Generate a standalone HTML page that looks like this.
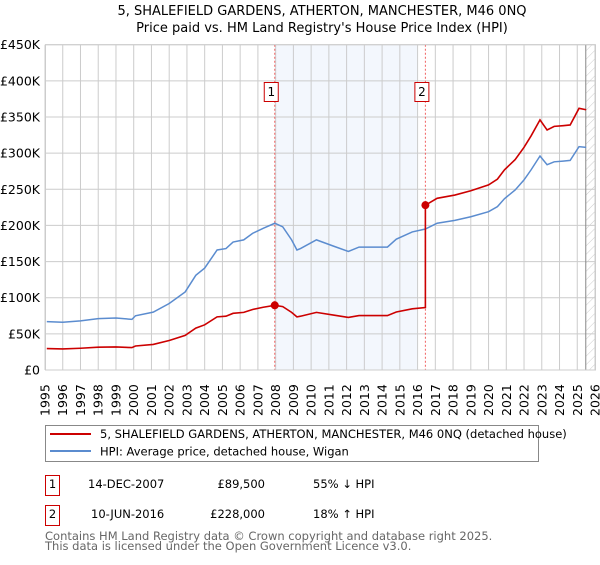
<!DOCTYPE html>
<html><head><meta charset="utf-8"><style>
body{margin:0;background:#fff;font-family:"Liberation Sans","DejaVu Sans",sans-serif;}
svg text{font-family:"DejaVu Sans","Liberation Sans",sans-serif;}
</style></head><body>
<svg id="c" width="600" height="560" viewBox="0 0 600 560" xmlns="http://www.w3.org/2000/svg">
<defs><pattern id="hatch" width="6" height="6" patternUnits="userSpaceOnUse" patternTransform="rotate(45)"><line x1="0" y1="0" x2="0" y2="6" stroke="#ccc" stroke-width="1"/></pattern></defs>
<text x="322" y="15" text-anchor="middle" font-size="13" fill="#000">5, SHALEFIELD GARDENS, ATHERTON, MANCHESTER, M46 0NQ</text>
<text x="322" y="32" text-anchor="middle" font-size="13" fill="#000">Price paid vs. HM Land Registry's House Price Index (HPI)</text>
<g id="plot"></g>
<g>
<rect x="45.5" y="425.5" width="493" height="36" fill="#fff" stroke="#888"/>
<line x1="50" y1="434" x2="91" y2="434" stroke="#cc0000" stroke-width="2"/>
<text x="100" y="438" font-size="11.5">5, SHALEFIELD GARDENS, ATHERTON, MANCHESTER, M46 0NQ (detached house)</text>
<line x1="50" y1="451" x2="91" y2="451" stroke="#5b8ccf" stroke-width="2"/>
<text x="100" y="455.5" font-size="11.5">HPI: Average price, detached house, Wigan</text>
</g>
<g font-size="11.5">
<rect x="45.5" y="475.5" width="14" height="20" fill="#fff" stroke="#cc0000"/>
<text x="52.5" y="488" text-anchor="middle">1</text>
<text x="88" y="488">14-DEC-2007</text>
<text x="265" y="488" text-anchor="end">£89,500</text>
<text x="313" y="488">55% ↓ HPI</text>
<rect x="45.5" y="505.5" width="14" height="20" fill="#fff" stroke="#cc0000"/>
<text x="52.5" y="518" text-anchor="middle">2</text>
<text x="91" y="518">10-JUN-2016</text>
<text x="265" y="518" text-anchor="end">£228,000</text>
<text x="313" y="518">18% ↑ HPI</text>
</g>
<text x="45" y="540" font-size="11.5" fill="#666">Contains HM Land Registry data © Crown copyright and database right 2025.</text>
<text x="45" y="550" font-size="11.5" fill="#666">This data is licensed under the Open Government Licence v3.0.</text>
</svg>
<script>
const dates=[1995.1,1996.0,1997.0,1998.0,1999.0,1999.9,2000.1,2001.1,2002.0,2002.9,2003.5,2004.0,2004.7,2005.2,2005.6,2006.2,2006.7,2007.3,2007.95,2008.4,2008.9,2009.2,2009.4,2010.3,2011.3,2012.1,2012.7,2013.5,2014.3,2014.8,2015.7,2016.44,2017.1,2018.1,2019.0,2020.0,2020.5,2020.9,2021.5,2022.0,2022.4,2022.9,2023.3,2023.7,2024.2,2024.6,2025.1,2025.5];
const hpiValues=[67,66,68,71,72,70,75,80,92,108,131,141,166,168,177,180,189,196,203,198,180,166,168,180,171,164,170,170,170,181,191,195,203,207,212,219,226,237,249,263,277,296,284,288,289,290,309,308];
const priceDates=[1995.1,1996.0,1997.0,1998.0,1999.0,1999.9,2000.1,2001.1,2002.0,2002.9,2003.5,2004.0,2004.7,2005.2,2005.6,2006.2,2006.7,2007.3,2007.95,2008.4,2008.9,2009.2,2009.4,2010.3,2011.3,2012.1,2012.7,2013.5,2014.3,2014.8,2015.7,2016.44,2016.44,2017.1,2018.1,2019.0,2020.0,2020.5,2020.9,2021.5,2022.0,2022.4,2022.9,2023.3,2023.7,2024.2,2024.6,2025.1,2025.5];
const priceValues=[29.7,29.2,30.1,31.5,31.9,31.0,33.2,35.4,40.8,47.8,58,62.5,73.5,74.4,78.4,79.7,83.7,86.8,89.5,87.7,79.7,73.5,74.4,79.7,75.8,72.7,75.3,75.3,75.3,80.2,84.6,86.4,228,237.5,242,248,256,264,277,291,308,324,346,332,337,338,339,362,360];
const saleDates=[2007.95,2016.44];
const saleValues=[89.5,228];
const saleLabels=["1","2"];
const yTicks=[0,50,100,150,200,250,300,350,400,450];
const yTickLabels=["£0","£50K","£100K","£150K","£200K","£250K","£300K","£350K","£400K","£450K"];
const xTicks=[1995,1996,1997,1998,1999,2000,2001,2002,2003,2004,2005,2006,2007,2008,2009,2010,2011,2012,2013,2014,2015,2016,2017,2018,2019,2020,2021,2022,2023,2024,2025,2026];

const L=45,R=595,T=44.7,B=370;
const X=y=>L+(y-1995)/31*(R-L);
const Y=v=>B-v/450*(B-T);
const NS="http://www.w3.org/2000/svg";
const g=document.getElementById('plot');
function mk(tag,attrs){const e=document.createElementNS(NS,tag);for(const k in attrs)e.setAttribute(k,attrs[k]);g.appendChild(e);return e;}
let e;
e=mk('rect',{x:X(saleDates[0]),y:T,width:X(2016.0)-X(saleDates[0]),height:B-T,fill:'#eef3fc',opacity:0.7});


e=mk('rect',{x:X(2025.48),y:T,width:R-X(2025.48),height:B-T,fill:'url(#hatch)'});


xTicks.forEach(t=>{
 e=mk('line',{x1:X(t),x2:X(t),y1:T,y2:B,stroke:'#ccc','stroke-width':1});
 
 
 e=mk('text',{x:0,y:0,transform:`translate(${X(t)+4.5},${B+46}) rotate(-90)`,'font-size':12.5,fill:'#000'});
 e.textContent=t;
 
 
});
yTicks.forEach((t,i)=>{
 e=mk('line',{x1:L,x2:R,y1:Y(t),y2:Y(t),stroke:'#ccc','stroke-width':1});
 
 
 e=mk('text',{x:40,y:Y(t)+4.5,'text-anchor':'end','font-size':12.5,fill:'#000'});
 e.textContent=yTickLabels[i];
 
 
});
e=mk('line',{x1:X(2025.48),x2:X(2025.48),y1:T,y2:B,stroke:'#888','stroke-width':1});


saleDates.forEach((d,i)=>{
 e=mk('line',{x1:X(d),x2:X(d),y1:T,y2:B,stroke:'#f06060','stroke-width':1,'stroke-dasharray':'2,2'});
 
 
 e=mk('rect',{x:X(d)-10.5,y:82.5,width:14,height:19,fill:'#fff',stroke:'#cc0000'});
 
 
 e=mk('text',{x:X(d)-3.5,y:96,'text-anchor':'middle','font-size':12,fill:'#000'});
 e.textContent=saleLabels[i];
 
 
});
e=mk('polyline',{points:dates.map((d,i)=>X(d)+','+Y(hpiValues[i])).join(' '),fill:'none',stroke:'#5b8ccf','stroke-width':1.5});


e=mk('polyline',{points:priceDates.map((d,i)=>X(d)+','+Y(priceValues[i])).join(' '),fill:'none',stroke:'#cc0000','stroke-width':1.6});


saleDates.forEach((d,i)=>{
 e=mk('circle',{cx:X(d),cy:Y(saleValues[i]),r:4,fill:'#cc0000'});
 
 
});
e=mk('rect',{x:L+0.5,y:T,width:R-L,height:B-T,fill:'none',stroke:'#ccc'});


</script>
</body></html>
